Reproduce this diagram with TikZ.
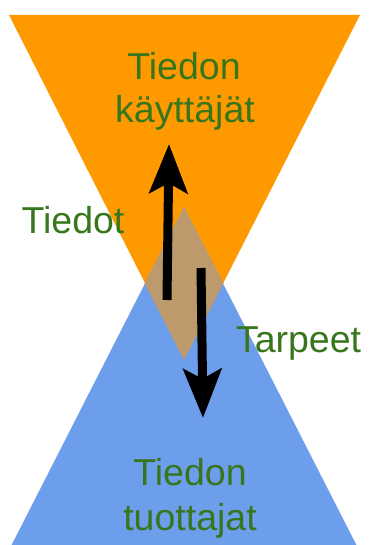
\documentclass[tikz,border=0pt]{standalone}
\usepackage{fontspec}
\setmainfont{Liberation Sans}
\usetikzlibrary{arrows.meta}
\definecolor{orng}{HTML}{FF9900}
\definecolor{blu}{HTML}{6D9EEB}
\definecolor{ovl}{HTML}{BC9A6B}
\definecolor{grn}{HTML}{38761D}
\tikzset{
  lbl/.style={text=grn, font=\fontsize{37.5}{43}\selectfont, anchor=base, inner sep=0pt},
  bigarrow/.style={line width=9pt, black, -{Stealth[length=49pt, width=38pt, inset=10pt]}}
}
\begin{document}
\begin{tikzpicture}[x=1pt, y=-1pt]
\useasboundingbox (0,0) rectangle (368,545);
% triangles
\fill[orng] (9,15) -- (360,15) -- (184,360) -- cycle;
\fill[blu] (184,207) -- (360,552) -- (8,552) -- cycle;
\fill[ovl] (184,207) -- (223.5,283) -- (184,360) -- (144.5,283) -- cycle;
% texts
\node[lbl] (t1) at (184,80) {Tiedon};
\node[lbl] (t2) at (185,123) {käyttäjät};
\node[lbl] (b1) at (190,485) {Tiedon};
\node[lbl] (b2) at (190,530) {tuottajat};
\node[lbl] (lt) at (73,233) {Tiedot};
\node[lbl] (rt) at (298.5,352) {Tarpeet};
% arrows
\coordinate (ua) at (167,300);
\coordinate (ub) at (169,144);
\coordinate (da) at (201,268);
\coordinate (db) at (203,418);
\draw[bigarrow] (ua) -- (ub);
\draw[bigarrow] (da) -- (db);
\end{tikzpicture}
\end{document}
